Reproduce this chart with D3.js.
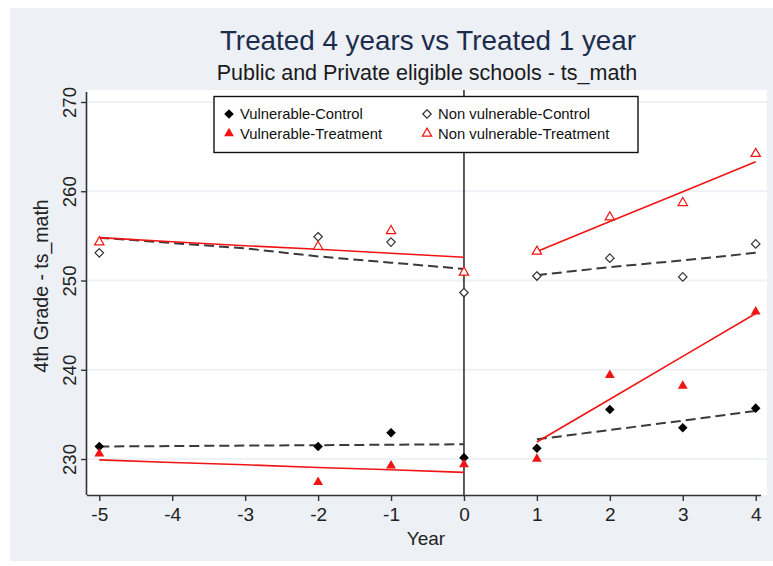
<!DOCTYPE html>
<html>
<head>
<meta charset="utf-8">
<script src="https://cdn.jsdelivr.net/npm/d3@7"></script>
<style>
  html, body { margin: 0; padding: 0; background: #ffffff; }
  svg { display: block; font-family: "Liberation Sans", Arial, sans-serif; }
</style>
</head>
<body>
<svg id="chart" width="773" height="566"></svg>
<script>
// ---------- Data ----------
const years = [-5, -2, -1, 0, 1, 2, 3, 4];
const vulnControl      = [231.4, 231.4, 232.95, 230.15, 231.2, 235.55, 233.5, 235.7];
const vulnTreatment    = [230.6, 227.4, 229.25, 229.4, 230.0, 239.4, 238.2, 246.5];
const nonVulnControl   = [253.1, 254.9, 254.3, 248.65, 250.5, 252.5, 250.4, 254.1];
const nonVulnTreatment = [254.3, 253.8, 255.55, 250.9, 253.25, 257.1, 258.7, 264.2];

// fitted lines (pre- and post-period)
const fitPreYears   = [-5, -4, -3, -2, -1, 0];
const fitPostYears  = [1, 2, 3, 4];
const fitVCPre   = [231.4, 231.45, 231.5, 231.55, 231.6, 231.65];
const fitVTPre   = [229.9, 229.6, 229.35, 229.05, 228.8, 228.5];
const fitNVCPre  = [254.8, 254.2, 253.6, 252.7, 252.0, 251.3];
const fitNVTPre  = [254.8, 254.35, 253.9, 253.5, 253.05, 252.6];
const fitVCPost  = [232.2, 233.25, 234.3, 235.4];
const fitVTPost  = [231.9, 236.7, 241.5, 246.3];
const fitNVCPost = [250.6, 251.5, 252.25, 253.1];
const fitNVTPost = [253.25, 256.6, 259.95, 263.3];

const xTicks = [-5, -4, -3, -2, -1, 0, 1, 2, 3, 4];
const yTicks = [230, 240, 250, 260, 270];

const titleText = "Treated 4 years vs Treated 1 year";
const subtitleText = "Public and Private eligible schools - ts_math";
const xTitle = "Year";
const yTitle = "4th Grade - ts_math";
const legendLabels = ["Vulnerable-Control", "Non vulnerable-Control", "Vulnerable-Treatment", "Non vulnerable-Treatment"];

// ---------- Layout ----------
const svg = d3.select("#chart");
const RED = "#f01414";
const DASH = "#3a3a3a";

const plot = { left: 87, right: 767, top: 90, bottom: 495 };
const x = d3.scaleLinear().domain([-5, 4]).range([99.3, 755.7]);
const y = d3.scaleLinear().domain([230, 270]).range([459, 102]);

// outer background
svg.append("rect").attr("x", 10).attr("y", 8).attr("width", 763).attr("height", 553).attr("fill", "#edf0f5");
// plot region
svg.append("rect").attr("x", plot.left).attr("y", plot.top)
  .attr("width", plot.right - plot.left).attr("height", plot.bottom - plot.top).attr("fill", "#ffffff");

// gridlines
svg.append("g").selectAll("line").data(yTicks).join("line")
  .attr("x1", plot.left).attr("x2", plot.right)
  .attr("y1", d => y(d)).attr("y2", d => y(d))
  .attr("stroke", "#eef1f5").attr("stroke-width", 2);

// titles
svg.append("text").attr("x", 428).attr("y", 50).attr("text-anchor", "middle")
  .attr("font-size", 27.8).attr("fill", "#1c2c4c").text(titleText);
svg.append("text").attr("x", 427).attr("y", 80).attr("text-anchor", "middle")
  .attr("font-size", 21.5).attr("fill", "#1a1a1a").text(subtitleText);

// axes
const fmt = d => String(d);
const xAxis = d3.axisBottom(x).tickValues(xTicks).tickSize(6).tickPadding(7).tickFormat(fmt);
const gx = svg.append("g").attr("transform", `translate(0,${plot.bottom})`).call(xAxis);
gx.select(".domain").attr("d", `M${plot.left},0.5H${plot.right - 6}`).attr("stroke", "#333").attr("stroke-width", 1.6);
gx.selectAll(".tick line").attr("stroke", "#333").attr("stroke-width", 1.4);
gx.selectAll(".tick text").attr("font-size", 19).attr("fill", "#222")
  .attr("font-family", "Liberation Sans, Arial, sans-serif");

const yAxis = d3.axisLeft(y).tickValues(yTicks).tickSize(6).tickPadding(0).tickFormat(fmt);
const gy = svg.append("g").attr("transform", `translate(${plot.left},0)`).call(yAxis);
gy.select(".domain").attr("d", `M-0.5,${plot.top + 2}V${plot.bottom}`).attr("stroke", "#333").attr("stroke-width", 1.6);
gy.selectAll(".tick line").attr("stroke", "#333").attr("stroke-width", 1.4);
gy.selectAll(".tick text")
  .attr("font-size", 18.5).attr("fill", "#222")
  .attr("font-family", "Liberation Sans, Arial, sans-serif")
  .attr("x", null).attr("dy", null)
  .attr("text-anchor", "middle")
  .attr("transform", "translate(-11,0) rotate(-90)");

// axis titles
svg.append("text").attr("x", 426).attr("y", 545).attr("text-anchor", "middle")
  .attr("font-size", 19).attr("fill", "#222").text(xTitle);
svg.append("text").attr("transform", "translate(48,286) rotate(-90)").attr("text-anchor", "middle")
  .attr("font-size", 19.5).attr("fill", "#222").text(yTitle);

// vertical line at 0
svg.append("line").attr("x1", x(0)).attr("x2", x(0)).attr("y1", plot.top).attr("y2", plot.bottom)
  .attr("stroke", "#333").attr("stroke-width", 1.6);

// fitted lines
const line = d3.line().x(d => x(d[0])).y(d => y(d[1]));
function fit(xs, ys, color, dashed) {
  svg.append("path").datum(xs.map((v, i) => [v, ys[i]]))
    .attr("d", line).attr("fill", "none")
    .attr("stroke", color).attr("stroke-width", dashed ? 2 : 1.6)
    .attr("stroke-dasharray", dashed ? "10,5" : null);
}
fit(fitPreYears, fitNVCPre, DASH, true);
fit(fitPreYears, fitVCPre, DASH, true);
fit(fitPostYears, fitNVCPost, DASH, true);
fit(fitPostYears, fitVCPost, DASH, true);
fit(fitPreYears, fitNVTPre, RED, false);
fit(fitPreYears, fitVTPre, RED, false);
fit(fitPostYears, fitNVTPost, RED, false);
fit(fitPostYears, fitVTPost, RED, false);

// markers
const squareDiamond = {
  draw(ctx, size) {
    const r = Math.sqrt(size / 2);
    ctx.moveTo(0, -r); ctx.lineTo(r, 0); ctx.lineTo(0, r); ctx.lineTo(-r, 0); ctx.closePath();
  }
};
const diamond = d3.symbol().type(squareDiamond).size(46);
const hollowDiamond = d3.symbol().type(squareDiamond).size(36);
const triangle = d3.symbol().type(d3.symbolTriangle).size(42);
const hollowTriangle = d3.symbol().type(d3.symbolTriangle).size(38);
function markers(vals, sym, fill, stroke) {
  svg.append("g").selectAll("path").data(vals).join("path")
    .attr("d", sym)
    .attr("transform", (d, i) => `translate(${x(years[i])},${y(d)})`)
    .attr("fill", fill).attr("stroke", stroke).attr("stroke-width", stroke === "none" ? 0 : 1.2);
}
markers(nonVulnControl, hollowDiamond, "#ffffff", "#333");
markers(nonVulnTreatment, hollowTriangle, "#ffffff", RED);
markers(vulnControl, diamond, "#000000", "none");
markers(vulnTreatment, triangle, RED, "none");

// legend
const lg = svg.append("g");
lg.append("rect").attr("x", 214).attr("y", 96.5).attr("width", 424).attr("height", 56)
  .attr("fill", "#ffffff").attr("stroke", "#111").attr("stroke-width", 1.4);
const legendItems = [
  { label: legendLabels[0], sym: diamond, fill: "#000", stroke: "none", lx: 229, ly: 114 },
  { label: legendLabels[1], sym: hollowDiamond, fill: "#fff", stroke: "#333", lx: 427, ly: 114 },
  { label: legendLabels[2], sym: triangle, fill: RED, stroke: "none", lx: 229, ly: 133.5 },
  { label: legendLabels[3], sym: hollowTriangle, fill: "#fff", stroke: RED, lx: 427, ly: 133.5 }
];
legendItems.forEach(it => {
  lg.append("path").attr("d", it.sym).attr("transform", `translate(${it.lx},${it.ly})`)
    .attr("fill", it.fill).attr("stroke", it.stroke).attr("stroke-width", it.stroke === "none" ? 0 : 1.2);
  lg.append("text").attr("x", it.lx + 11).attr("y", it.ly + 5)
    .attr("font-size", 14.8).attr("fill", "#111").text(it.label);
});
</script>
</body>
</html>
